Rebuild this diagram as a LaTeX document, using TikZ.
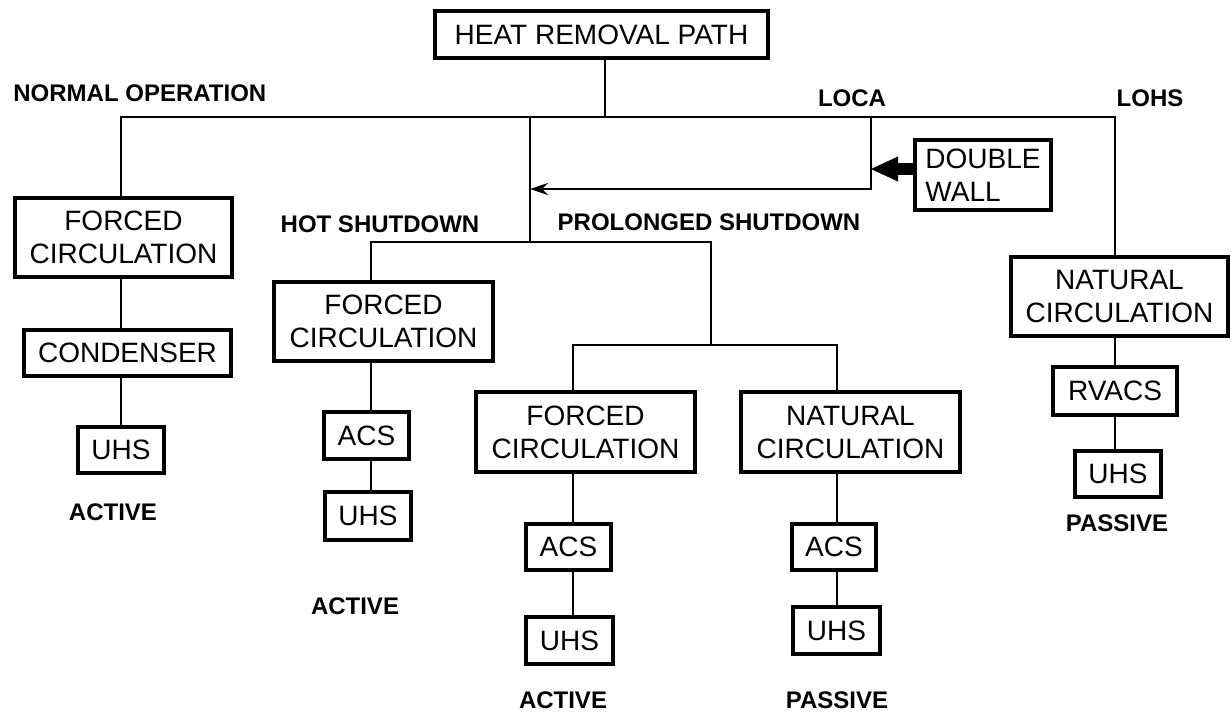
\documentclass[tikz,border=0pt]{standalone}
\usepackage{fontspec}
\setmainfont{Liberation Sans}
\usepackage{xcolor}
\usepackage{tikz}
\usetikzlibrary{
    arrows.meta,
    positioning,
    calc
}
\tikzset{
    % Outlined box
    hrpbox/.style={
        rectangle,
        draw=black,
        line width=2pt,
        fill=white,
        font=\fontsize{14}{16.5}\selectfont,
        align=center,
        inner sep=0pt
    },
    % Two-line circulation box
    circbox/.style={
        hrpbox,
        minimum width=109.5pt,
        minimum height=40pt
    },
    % Small unit box
    unitbox/.style={
        hrpbox,
        minimum width=43pt,
        minimum height=23.5pt
    },
    % Condition label
    hrplabel/.style={
        font=\fontsize{12}{14}\selectfont\bfseries,
        inner sep=0pt
    },
    % Connector
    hrpline/.style={
        draw=black,
        line width=1pt
    },
    % Arrow style
    hrparrow/.style={
        hrpline,
        -{Stealth[length=9pt,width=6pt,inset=3pt]}
    },
    % Heavy arrow
    heavyarrow/.style={
        draw=black,
        line width=6pt,
        -{Triangle[length=13.5pt,width=12.5pt,line width=0pt]}
    }
}

\begin{document}
\begin{tikzpicture}[x=0.5pt, y=-0.5pt]
    \useasboundingbox (0,0) rectangle (1231,713);

    % Root
    \node[hrpbox, minimum width=166.5pt, minimum height=23.5pt] (root) at (601.5,34.5) {HEAT REMOVAL PATH};

    % Branch points
    \coordinate (roottop) at (605,117);
    \coordinate (busL) at (121,117);
    \coordinate (busR) at (1115,117);
    \coordinate (midtop) at (530,117);
    \coordinate (midsplit) at (530,242);
    \coordinate (hotsplit) at (371,242);
    \coordinate (prolsplit) at (711,242);
    \coordinate (prolbus) at (711,345);
    \coordinate (fcsplit) at (573,345);
    \coordinate (ncsplit) at (837,345);
    \coordinate (locatop) at (871,117);
    \coordinate (locajoin) at (530,189);
    \coordinate (dwtip) at (871,169);

    % Normal operation
    \node[circbox, minimum width=108.5pt, minimum height=39.5pt] (fcA) at (123.5,237.5) {FORCED\\CIRCULATION};
    \node[hrpbox, minimum width=103.5pt, minimum height=23pt] (condenser) at (127.5,353) {CONDENSER};
    \node[unitbox, minimum height=23pt] (uhsA) at (121,450) {UHS};

    % Hot shutdown
    \node[circbox, minimum height=39.5pt] (fcB) at (383.5,321.5) {FORCED\\CIRCULATION};
    \node[unitbox, minimum width=42.5pt] (acsB) at (366.5,435.5) {ACS};
    \node[unitbox, minimum height=24pt] (uhsB) at (368,516) {UHS};

    % Prolonged shutdown
    \node[circbox] (fcC) at (585.5,432) {FORCED\\CIRCULATION};
    \node[unitbox, minimum width=42.5pt, minimum height=23pt] (acsC) at (568.5,547) {ACS};
    \node[unitbox, minimum width=43.5pt] (uhsC) at (569.5,640.5) {UHS};
    \node[circbox] (ncD) at (850.5,432) {NATURAL\\CIRCULATION};
    \node[unitbox, minimum width=42pt, minimum height=23pt] (acsD) at (834,547) {ACS};
    \node[unitbox, minimum width=43.5pt] (uhsD) at (836.5,630.5) {UHS};

    % LOCA and LOHS
    \node[hrpbox, minimum width=68pt, minimum height=35pt, align=left] (dwall) at (983,175) {DOUBLE\\WALL};
    \node[circbox, minimum width=108.5pt, minimum height=39.5pt] (ncE) at (1119.5,296.5) {NATURAL\\CIRCULATION};
    \node[hrpbox, minimum width=62pt, minimum height=24pt] (rvacs) at (1115,391) {RVACS};
    \node[unitbox, minimum height=23pt] (uhsE) at (1118,474) {UHS};

    % Connectors
    \draw[hrpline] (root.south -| roottop) -- (roottop);
    \draw[hrpline] (fcA.north -| busL) -- (busL) -- (busR) -- (busR |- ncE.north);
    \draw[hrpline] (midtop) -- (midsplit);
    \draw[hrpline] (fcB.north -| hotsplit) -- (hotsplit) -- (prolsplit) -- (prolbus);
    \draw[hrpline] (fcC.north -| fcsplit) -- (fcsplit) -- (ncsplit) -- (ncD.north -| ncsplit);
    \draw[hrparrow] (locatop) |- (locajoin);
    \draw[heavyarrow] (dwall.west |- dwtip) -- (dwtip);

    \draw[hrpline] (fcA.south -| busL) -- (condenser.north -| busL);
    \draw[hrpline] (condenser.south -| busL) -- (uhsA.north -| busL);
    \draw[hrpline] (fcB.south -| hotsplit) -- (acsB.north -| hotsplit);
    \draw[hrpline] (acsB.south -| hotsplit) -- (uhsB.north -| hotsplit);
    \draw[hrpline] (fcC.south -| fcsplit) -- (acsC.north -| fcsplit);
    \draw[hrpline] (acsC.south -| fcsplit) -- (uhsC.north -| fcsplit);
    \draw[hrpline] (ncD.south -| ncsplit) -- (acsD.north -| ncsplit);
    \draw[hrpline] (acsD.south -| ncsplit) -- (uhsD.north -| ncsplit);
    \draw[hrpline] (ncE.south -| busR) -- (rvacs.north -| busR);
    \draw[hrpline] (rvacs.south -| busR) -- (uhsE.north -| busR);

    % Condition labels
    \node[hrplabel, anchor=west] (normal) at (13,93) {NORMAL OPERATION};
    \node[hrplabel] (loca) at (852,98) {LOCA};
    \node[hrplabel] (lohs) at (1150,98) {LOHS};
    \node[hrplabel] (hot) at (380,224) {HOT SHUTDOWN};
    \node[hrplabel] (prolonged) at (709,222) {PROLONGED SHUTDOWN};
    \node[hrplabel] (activeA) at (113,512) {ACTIVE};
    \node[hrplabel] (activeB) at (355,606) {ACTIVE};
    \node[hrplabel] (activeC) at (563,700) {ACTIVE};
    \node[hrplabel] (passiveD) at (837,700) {PASSIVE};
    \node[hrplabel] (passiveE) at (1117,523) {PASSIVE};

\end{tikzpicture}
\end{document}
